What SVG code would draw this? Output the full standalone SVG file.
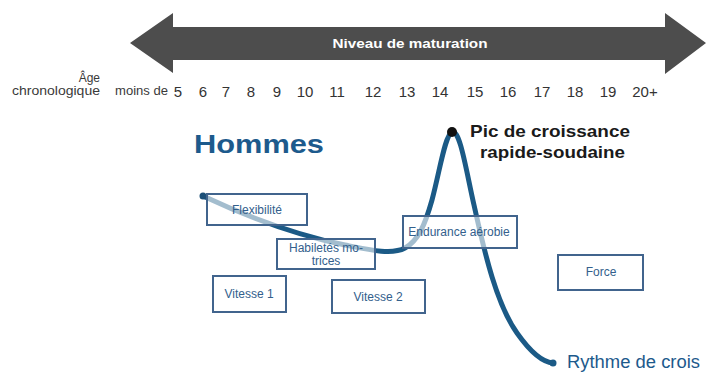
<svg xmlns="http://www.w3.org/2000/svg" width="706" height="373" viewBox="0 0 706 373">
<style>
.age{font-family:"Liberation Sans",Arial,sans-serif;fill:#3a3a3a}
.num{font-family:"Liberation Sans",Arial,sans-serif;font-size:15px;fill:#333;text-anchor:middle}
.box rect{fill:#fff;fill-opacity:0.6;stroke:#41648d;stroke-width:2}
.box text{font-family:"Liberation Sans",Arial,sans-serif;font-size:12px;fill:#33608c;text-anchor:middle}
</style>
<rect width="706" height="373" fill="#fff"/>
<g id="maturation-arrow">
<polygon points="130,43 173,13 173,27 665,27 665,13 706,43 665,74 665,60 173,60 173,73" fill="#4d4d4d"/>
<text x="410" y="48" font-family="'Liberation Sans',Arial,sans-serif" font-size="13" font-weight="bold" fill="#fff" text-anchor="middle" textLength="155" lengthAdjust="spacingAndGlyphs">Niveau de maturation</text>
</g>
<g id="age-axis">
<text class="age" x="100" y="82" font-size="12" text-anchor="end">Âge</text>
<text class="age" x="100" y="95" font-size="12" text-anchor="end" textLength="88" lengthAdjust="spacingAndGlyphs">chronologique</text>
<text class="age" x="115" y="95" font-size="12" textLength="53" lengthAdjust="spacingAndGlyphs">moins de</text>
<text class="num" x="178" y="97">5</text>
<text class="num" x="203" y="97">6</text>
<text class="num" x="226" y="97">7</text>
<text class="num" x="251" y="97">8</text>
<text class="num" x="277" y="97">9</text>
<text class="num" x="305" y="97">10</text>
<text class="num" x="337" y="97">11</text>
<text class="num" x="373" y="97">12</text>
<text class="num" x="407" y="97">13</text>
<text class="num" x="440" y="97">14</text>
<text class="num" x="475" y="97">15</text>
<text class="num" x="508" y="97">16</text>
<text class="num" x="542" y="97">17</text>
<text class="num" x="575" y="97">18</text>
<text class="num" x="608" y="97">19</text>
<text class="num" x="645" y="97">20+</text>
</g>
<g id="title">
<text x="194" y="153" font-family="'Liberation Sans',Arial,sans-serif" font-size="26" font-weight="bold" fill="#1d5a8c" textLength="130" lengthAdjust="spacingAndGlyphs">Hommes</text>
</g>
<g id="connectors">
<path d="M203,196 C250,218 300,236 345,245 C370,250 392,255 405,248 C418,241 425,225 432,200 C440,170 445,135 452,132 C460,129 466,170 474,205 C485,255 497,305 517,333 C529,350 541,362 553,363" fill="none" stroke="#1b5a86" stroke-width="5" stroke-linecap="round"/>
<circle cx="203" cy="196" r="3.5" fill="#1b4f78"/>
<circle cx="553" cy="363" r="3.5" fill="#1b5a86"/>
</g>
<g id="peak">
<circle cx="452" cy="132" r="5" fill="#111"/>
<text x="470" y="137" font-family="'Liberation Sans',Arial,sans-serif" font-size="17" font-weight="bold" fill="#1a1a1a" textLength="160" lengthAdjust="spacingAndGlyphs">Pic de croissance</text>
<text x="480" y="158" font-family="'Liberation Sans',Arial,sans-serif" font-size="17" font-weight="bold" fill="#1a1a1a" textLength="145" lengthAdjust="spacingAndGlyphs">rapide-soudaine</text>
</g>
<g id="rythme">
<text x="567" y="368" font-family="'Liberation Sans',Arial,sans-serif" font-size="18" fill="#1d5a8c" textLength="133" lengthAdjust="spacingAndGlyphs">Rythme de crois</text>
</g>
<g id="flexibilite" class="box">
<rect x="207" y="194" width="100" height="31"/>
<text x="257" y="214">Flexibilité</text>
</g>
<g id="habiletes" class="box">
<rect x="277" y="239" width="98" height="30"/>
<text x="326" y="252">Habiletés mo-</text>
<text x="326" y="265">trices</text>
</g>
<g id="endurance" class="box">
<rect x="403" y="216" width="114" height="32"/>
<text x="459" y="236">Endurance aérobie</text>
</g>
<g id="vitesse1" class="box">
<rect x="213" y="276" width="73" height="36"/>
<text x="249" y="298">Vitesse 1</text>
</g>
<g id="vitesse2" class="box">
<rect x="332" y="280" width="93" height="33"/>
<text x="378" y="301">Vitesse 2</text>
</g>
<g id="force" class="box">
<rect x="558" y="255" width="85" height="35"/>
<text x="601" y="276">Force</text>
</g>
</svg>
